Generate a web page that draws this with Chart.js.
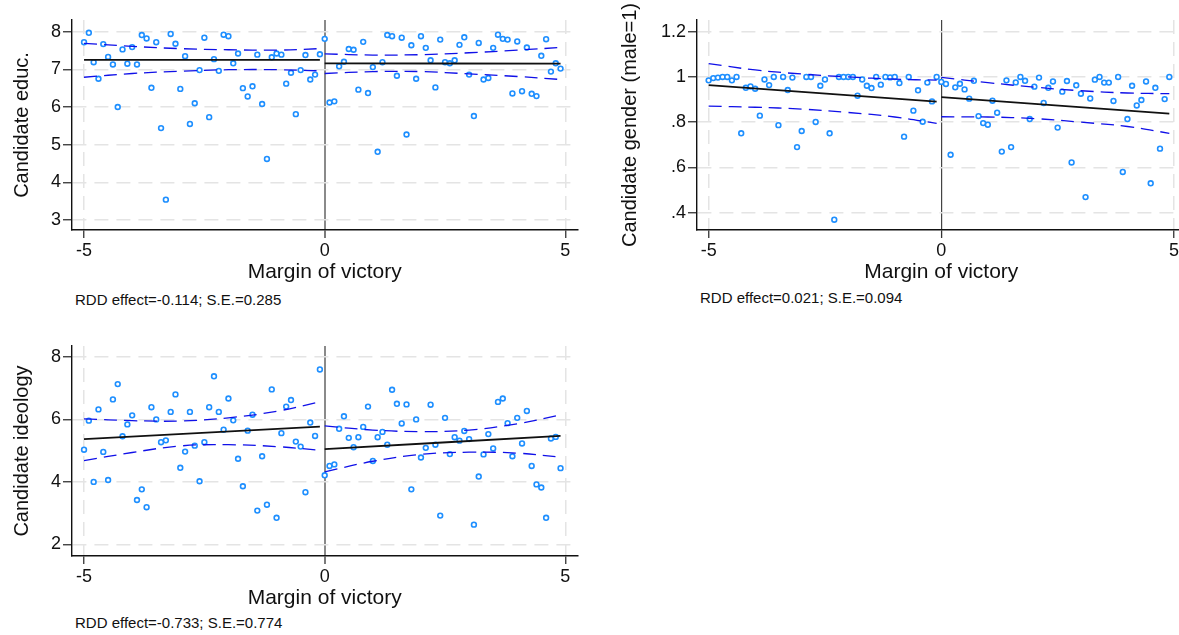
<!DOCTYPE html>
<html><head><meta charset="utf-8">
<script src="https://cdn.jsdelivr.net/npm/chart.js@4.4.1/dist/chart.umd.min.js"></script>
<style>
html,body{margin:0;padding:0;background:#fff;overflow:hidden;width:1179px;height:635px;position:relative;}
.box{position:absolute;}
.note{position:absolute;font-family:'Liberation Sans',Arial,Helvetica,sans-serif;font-size:15px;color:#111;white-space:nowrap;line-height:16px;}
</style></head><body>
<div class="box" style="left:0;top:0;"><canvas id="c1" width="590" height="285"></canvas></div>
<div class="box" style="left:600px;top:0;"><canvas id="c2" width="600" height="285"></canvas></div>
<div class="box" style="left:0;top:326px;"><canvas id="c3" width="590" height="285"></canvas></div>
<div class="note" id="n1" style="left:75px;top:292px;"></div>
<div class="note" id="n2" style="left:700px;top:290px;"></div>
<div class="note" id="n3" style="left:75px;top:615px;"></div>
<script>
const FONT = "'Liberation Sans', Arial, Helvetica, sans-serif";

// Bin midpoints (margin of victory)
const marginBins = [-5.0,-4.9,-4.8,-4.7,-4.6,-4.5,-4.4,-4.3,-4.2,-4.1,
  -4.0,-3.9,-3.8,-3.7,-3.6,-3.5,-3.4,-3.3,-3.2,-3.1,
  -3.0,-2.9,-2.8,-2.7,-2.6,-2.5,-2.4,-2.3,-2.2,-2.1,
  -2.0,-1.9,-1.8,-1.7,-1.6,-1.5,-1.4,-1.3,-1.2,-1.1,
  -1.0,-0.9,-0.8,-0.7,-0.6,-0.5,-0.4,-0.3,-0.2,-0.1,
  0.0,0.1,0.2,0.3,0.4,0.5,0.6,0.7,0.8,0.9,
  1.0,1.1,1.2,1.3,1.4,1.5,1.6,1.7,1.8,1.9,
  2.0,2.1,2.2,2.3,2.4,2.5,2.6,2.7,2.8,2.9,
  3.0,3.1,3.2,3.3,3.4,3.5,3.6,3.7,3.8,3.9,
  4.0,4.1,4.2,4.3,4.4,4.5,4.6,4.7,4.8,4.9];

const xTicks = [-5, 0, 5];

// Panel 1: candidate education
const educY = [7.72,7.97,7.19,6.75,7.67,7.33,7.13,6.00,7.53,7.15,
  7.59,7.13,7.91,7.82,6.51,7.72,5.44,3.54,7.94,7.68,
  6.48,7.35,5.55,6.10,6.98,7.84,5.73,7.27,6.96,7.92,
  7.88,7.16,7.42,6.50,6.28,6.55,7.39,6.08,4.62,7.32,
  7.42,7.39,6.62,6.91,5.81,6.98,7.38,6.73,6.86,7.40,
  7.81,6.12,6.15,7.08,7.20,7.54,7.52,6.46,7.73,6.37,
  7.06,4.81,7.19,7.91,7.88,6.83,7.84,5.27,7.64,6.75,
  7.88,7.57,7.24,6.52,7.79,7.19,7.16,7.24,7.65,7.85,
  6.86,5.76,7.70,6.73,6.77,7.57,7.92,7.81,7.79,6.36,
  7.74,6.42,7.58,6.35,6.29,7.36,7.80,6.94,7.16,7.02];
const educTicks = [3,4,5,6,7,8];
const educTickLabels = ['3','4','5','6','7','8'];

// Panel 2: candidate gender
const genderY = [0.985,0.995,0.997,1.0,1.0,0.985,1.0,0.751,0.952,0.958,
  0.948,0.829,0.989,0.964,1.0,0.787,1.0,0.942,0.997,0.690,
  0.761,1.0,1.0,0.801,0.961,0.989,0.751,0.369,1.0,1.0,
  1.0,1.0,0.917,0.989,0.961,0.951,1.0,0.966,1.0,0.998,
  1.0,0.973,0.736,1.0,0.851,0.941,0.802,0.975,0.892,1.0,
  0.978,0.969,0.656,0.954,0.970,0.945,0.904,0.983,0.827,0.796,
  0.789,0.895,0.842,0.670,0.985,0.690,0.976,1.0,0.983,0.814,
  0.957,0.997,0.885,0.952,0.980,0.776,0.935,0.982,0.622,0.963,
  0.926,0.469,0.905,0.988,1.0,0.975,0.975,0.894,1.0,0.580,
  0.814,0.961,0.874,0.898,0.980,0.530,0.952,0.683,0.902,1.0];
const genderTicks = [0.4,0.6,0.8,1,1.2];
const genderTickLabels = ['.4','.6','.8','1','1.2'];

// Panel 3: candidate ideology
const ideologyY = [5.03,5.96,4.00,6.32,4.96,4.06,6.64,7.13,5.46,5.84,
  6.13,3.42,3.76,3.19,6.39,6.00,5.27,5.33,6.24,6.80,
  4.45,4.97,6.24,5.16,4.02,5.27,6.39,7.38,6.24,5.67,
  6.67,5.97,4.74,3.86,5.64,6.15,3.08,4.82,3.27,6.96,
  2.85,5.56,6.41,6.62,5.29,5.13,3.67,5.90,5.47,7.60,
  4.21,4.51,4.56,5.70,6.10,5.41,5.11,5.43,5.76,6.41,
  4.67,5.43,5.60,5.19,6.95,6.50,5.87,6.48,3.76,6.00,
  4.78,5.09,6.47,5.19,2.92,6.05,4.89,5.43,5.32,5.63,
  5.37,2.63,4.17,4.88,5.53,5.07,6.56,6.67,5.88,4.82,
  6.05,5.23,6.27,4.51,3.92,3.82,2.85,5.39,5.44,4.44];
const ideologyTicks = [2,4,6,8];
const ideologyTickLabels = ['2','4','6','8'];

// Fitted lines (left / right of cutoff)
const fitLeftX = [-5, -0.1];
const fitRightX = [0, 4.9];
const educFitLeft = [7.25, 7.25];
const educFitRight = [7.16, 7.15];
const genderFitLeft = [0.964, 0.891];
const genderFitRight = [0.911, 0.838];
const ideologyFitLeft = [5.37, 5.77];
const ideologyFitRight = [5.05, 5.47];

// Confidence bands
const ciLeftX = [-5, -4, -3, -2, -1, -0.1];
const ciRightX = [0, 1, 2, 3, 4, 4.9];
const educCiLeftUp = [7.69, 7.61, 7.55, 7.52, 7.51, 7.55];
const educCiLeftLo = [6.79, 6.89, 6.95, 6.99, 6.99, 6.96];
const educCiRightUp = [7.41, 7.38, 7.39, 7.44, 7.51, 7.58];
const educCiRightLo = [6.89, 6.94, 6.94, 6.88, 6.81, 6.73];
const genderCiLeftUp = [1.059, 1.031, 1.013, 1.000, 0.990, 0.986];
const genderCiLeftLo = [0.871, 0.866, 0.858, 0.843, 0.823, 0.795];
const genderCiRightUp = [0.998, 0.975, 0.955, 0.939, 0.929, 0.926];
const genderCiRightLo = [0.824, 0.823, 0.816, 0.800, 0.781, 0.751];
const ideologyCiLeftUp = [6.02, 5.96, 5.95, 6.05, 6.26, 6.56];
const ideologyCiLeftLo = [4.68, 4.94, 5.15, 5.19, 5.13, 5.01];
const ideologyCiRightUp = [5.79, 5.66, 5.61, 5.66, 5.86, 6.14];
const ideologyCiRightLo = [4.32, 4.66, 4.88, 4.95, 4.92, 4.79];

const notes = ['RDD effect=-0.114; S.E.=0.285', 'RDD effect=0.021; S.E.=0.094', 'RDD effect=-0.733; S.E.=0.774'];

function pts(xs, ys) { return xs.map((x, i) => ({x: x, y: ys[i]})); }

function lineDs(xs, ys, color, width, dash) {
  return {data: pts(xs, ys), showLine: true, borderColor: color, borderWidth: width,
    borderDash: dash, pointRadius: 0, pointHoverRadius: 0, tension: 0.4, fill: false};
}

function panel(id, cfg) {
  const CI = '#1010e8';
  const DASH = [13, 7];
  const datasets = [
    lineDs(fitLeftX, cfg.fitL, '#111', 1.8, []),
    lineDs(fitRightX, cfg.fitR, '#111', 1.8, []),
    lineDs(ciLeftX, cfg.ciLU, CI, 1.3, DASH),
    lineDs(ciLeftX, cfg.ciLL, CI, 1.3, DASH),
    lineDs(ciRightX, cfg.ciRU, CI, 1.3, DASH),
    lineDs(ciRightX, cfg.ciRL, CI, 1.3, DASH),
    {data: pts(marginBins, cfg.y), showLine: false, pointStyle: 'circle', pointRadius: 2.4,
     pointBorderWidth: 1.6, borderColor: '#1e8fff', backgroundColor: '#ffffff', pointHoverRadius: 2.4}
  ];
  const isZero = c => c && c.tick && Math.abs(c.tick.value) < 1e-9;
  new Chart(document.getElementById(id), {
    type: 'scatter',
    data: {datasets: datasets},
    options: {
      responsive: false, animation: false, events: [],
      layout: {padding: {left: 0, top: 20, right: cfg.padR, bottom: 0}},
      plugins: {legend: {display: false}, tooltip: {enabled: false}},
      scales: {
        x: {
          type: 'linear', min: -5.25, max: 5.25,
          afterBuildTicks: s => { s.ticks = xTicks.map(v => ({value: v})); },
          afterFit: s => { s.height = 55; },
          grid: {
            color: c => isZero(c) ? cfg.zeroColor : '#e4e4e4',
            lineWidth: c => isZero(c) ? cfg.zeroWidth : 1.5,
            tickColor: '#333', tickLength: 8, tickWidth: 1.3
          },
          border: {display: true, color: '#111', width: 1.4,
            dash: c => isZero(c) ? [] : [14, 8]},
          ticks: {font: {family: FONT, size: 18}, color: '#111', padding: 2,
            maxRotation: 0, autoSkip: false, callback: v => String(v)},
          title: {display: true, text: 'Margin of victory', color: '#111',
            font: {family: FONT, size: 21}, padding: {top: 0, bottom: 0}}
        },
        y: {
          type: 'linear', min: cfg.yMin, max: cfg.yMax,
          afterBuildTicks: s => { s.ticks = cfg.ticks.map(v => ({value: v})); },
          afterFit: s => { s.width = cfg.yW; },
          grid: {color: '#e4e4e4', lineWidth: 1.5, tickColor: '#333', tickLength: 9, tickWidth: 1.3},
          border: {display: true, color: '#111', width: 1.4, dash: [14, 8]},
          ticks: {font: {family: FONT, size: 18}, color: '#111', padding: 2, autoSkip: false,
            callback: (v, i) => cfg.labels[i]},
          title: {display: true, text: cfg.title, color: '#111',
            font: {family: FONT, size: 20}, padding: {top: cfg.titlePad, bottom: 0}}
        }
      }
    }
  });
}

panel('c1', {y: educY, ticks: educTicks, labels: educTickLabels, yMin: 2.734, yMax: 8.31,
  title: 'Candidate educ.', yW: 72, titlePad: 10, padR: 12.6,
  fitL: educFitLeft, fitR: educFitRight, ciLU: educCiLeftUp, ciLL: educCiLeftLo,
  ciRU: educCiRightUp, ciRL: educCiRightLo, zeroColor: '#8a8a8a', zeroWidth: 2});
panel('c2', {y: genderY, ticks: genderTicks, labels: genderTickLabels, yMin: 0.3235, yMax: 1.2517,
  title: 'Candidate gender (male=1)', yW: 97, titlePad: 18, padR: 14.4,
  fitL: genderFitLeft, fitR: genderFitRight, ciLU: genderCiLeftUp, ciLL: genderCiLeftLo,
  ciRU: genderCiRightUp, ciRL: genderCiRightLo, zeroColor: '#444', zeroWidth: 1.2});
panel('c3', {y: ideologyY, ticks: ideologyTicks, labels: ideologyTickLabels, yMin: 1.627, yMax: 8.35,
  title: 'Candidate ideology', yW: 72, titlePad: 10, padR: 12.6,
  fitL: ideologyFitLeft, fitR: ideologyFitRight, ciLU: ideologyCiLeftUp, ciLL: ideologyCiLeftLo,
  ciRU: ideologyCiRightUp, ciRL: ideologyCiRightLo, zeroColor: '#8a8a8a', zeroWidth: 2});

document.getElementById('n1').textContent = notes[0];
document.getElementById('n2').textContent = notes[1];
document.getElementById('n3').textContent = notes[2];
</script>
</body></html>
